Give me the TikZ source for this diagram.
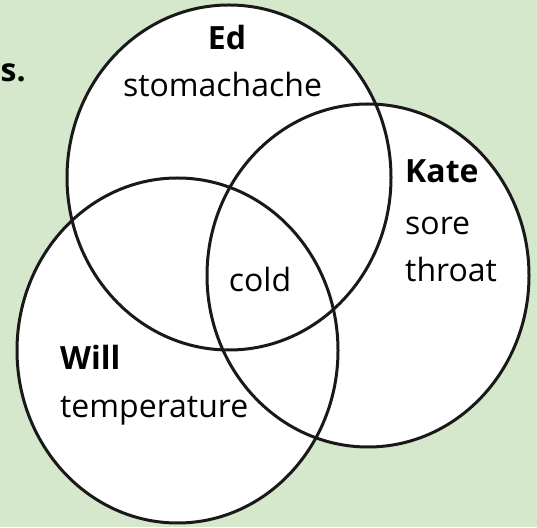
\documentclass[tikz,border=0pt]{standalone}
\usepackage{fontspec}
\setmainfont{Open Sans}
\definecolor{bggreen}{RGB}{213,232,204}
\begin{document}
\begin{tikzpicture}[x=1pt,y=1pt,
  ring/.style={draw=black!90,line width=3pt},
  lbl/.style={inner sep=0pt,font=\fontsize{32}{38}\selectfont},
  boldlbl/.style={inner sep=0pt,font=\fontsize{32}{38}\selectfont\bfseries}]
\fill[bggreen] (0,0) rectangle (537,527);
\useasboundingbox (0,0) rectangle (537,527);
% white fills
\fill[white] (229,349.5) ellipse [x radius=162,y radius=172.5];
\fill[white] (368,251.5) ellipse [x radius=161,y radius=171.5];
\fill[white] (177.5,176.5) ellipse [x radius=160.5,y radius=172.5];
% outlines
\draw[ring] (229,349.5) ellipse [x radius=162,y radius=172.5];
\draw[ring] (368,251.5) ellipse [x radius=161,y radius=171.5];
\draw[ring] (177.5,176.5) ellipse [x radius=160.5,y radius=172.5];
% labels
\node[boldlbl,anchor=base west] (s) at (0.5,445) {s.};
\node[boldlbl,anchor=base] (ed) at (227,477) {Ed};
\node[lbl,anchor=base] (edx) at (222.5,430) {stomachache};
\node[boldlbl,anchor=base west] (kate) at (405,344) {Kate};
\node[lbl,anchor=base west] (kate1) at (405,292) {sore};
\node[lbl,anchor=base west] (kate2) at (405,245) {throat};
\node[lbl,anchor=base] (cold) at (260,235) {cold};
\node[boldlbl,anchor=base west] (will) at (60,157) {Will};
\node[lbl,anchor=base west] (willx) at (60,110) {temperature};
\end{tikzpicture}
\end{document}
